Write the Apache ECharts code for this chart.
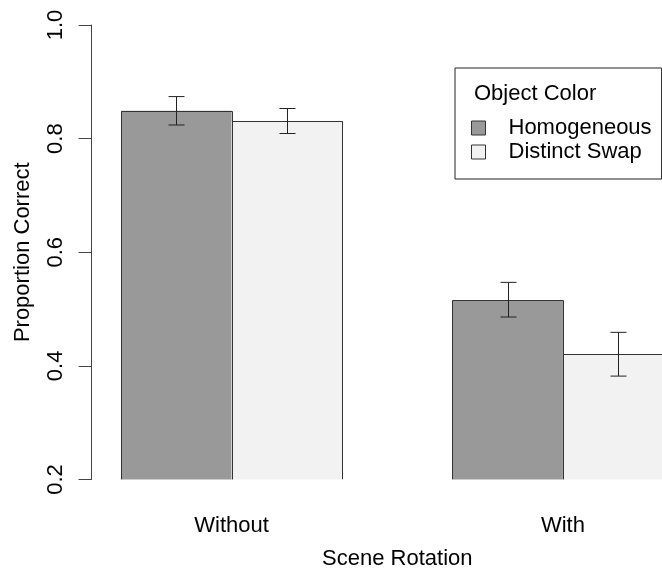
<!DOCTYPE html>
<html>
<head>
<meta charset="utf-8">
<script src="https://cdn.jsdelivr.net/npm/echarts@6/dist/echarts.min.js"></script>
<style>
html,body{margin:0;padding:0;background:#fff;}
#chart{width:662px;height:574px;}
</style>
</head>
<body>
<div id="chart"></div>
<script>
// ---- data ----
const categories = ['Without', 'With'];
const seriesNames = ['Homogeneous', 'Distinct Swap'];
const homogeneous = [0.849, 0.516];
const distinctSwap = [0.831, 0.421];
const homogeneousLower = [0.824, 0.486];
const homogeneousUpper = [0.874, 0.547];
const distinctLower = [0.809, 0.382];
const distinctUpper = [0.853, 0.459];
const yMin = 0.2, yMax = 1.0, yStep = 0.2;
const legendTitle = 'Object Color';
const xTitle = 'Scene Rotation';
const yTitle = 'Proportion Correct';

const FONT = 'Liberation Sans';
const FS = 22;
const GAP = 0.332;
const colors = ['#999999', '#f2f2f2'];

function errData(mean, lo, hi) {
  return categories.map((c, i) => [i, mean[i], lo[i], hi[i]]);
}
function errRender(seriesIdx) {
  return function (params, api) {
    const i = api.value(0);
    const bandW = api.size([1, 0])[0];
    const barW = bandW * (1 - GAP) / 2;
    const off = (seriesIdx === 0 ? -1 : 1) * barW / 2;
    const pTop = api.coord([i, api.value(1)]);
    const pLo = api.coord([i, api.value(2)]);
    const pHi = api.coord([i, api.value(3)]);
    const pBase = api.coord([i, yMin]);
    const cx = pLo[0] + off;
    const x = Math.round(cx) + 0.5;
    const xl = Math.round(cx - barW / 2) + 0.5;
    const xr = Math.round(cx + barW / 2) + 0.5;
    const yt = Math.round(pTop[1]) + 0.5;
    const cap = 8;
    const st = { stroke: '#222', lineWidth: 1, fill: null };
    const ost = { stroke: '#333', lineWidth: 1, fill: null };
    return {
      type: 'group',
      children: [
        { type: 'polyline', shape: { points: [[xl, pBase[1]], [xl, yt], [xr, yt], [xr, pBase[1]]] }, style: ost },
        { type: 'line', shape: { x1: x, y1: pLo[1], x2: x, y2: pHi[1] }, style: st },
        { type: 'line', shape: { x1: x - cap, y1: pLo[1], x2: x + cap, y2: pLo[1] }, style: st },
        { type: 'line', shape: { x1: x - cap, y1: pHi[1], x2: x + cap, y2: pHi[1] }, style: st }
      ]
    };
  };
}

const chart = echarts.init(document.getElementById('chart'), null, { renderer: 'canvas' });
chart.setOption({
  animation: false,
  backgroundColor: '#ffffff',
  textStyle: { fontFamily: FONT },
  grid: { left: 66, top: 25, width: 662.6, height: 454.5, containLabel: false, outerBoundsMode: 'none' },
  title: {
    text: legendTitle,
    left: 474, top: 83,
    padding: 0,
    textStyle: { fontFamily: FONT, fontSize: FS, fontWeight: 'normal', color: '#000' }
  },
  legend: {
    orient: 'vertical',
    left: 455, top: 68,
    padding: [49, 10, 16, 16],
    itemGap: 2,
    itemWidth: 14, itemHeight: 14,
    icon: 'rect',
    borderColor: '#222', borderWidth: 1,
    data: seriesNames,
    textStyle: { fontFamily: FONT, fontSize: FS, color: '#000', padding: [0, 0, 0, 18] },
    itemStyle: { borderColor: '#333', borderWidth: 1 }
  },
  xAxis: {
    type: 'category',
    data: categories,
    axisLine: { show: false },
    axisTick: { show: false },
    axisLabel: { margin: 35, fontFamily: FONT, fontSize: FS, color: '#000' },
    name: xTitle,
    nameLocation: 'middle',
    nameGap: 68,
    nameTextStyle: { fontFamily: FONT, fontSize: FS, color: '#000' }
  },
  yAxis: {
    type: 'value',
    min: yMin, max: yMax, interval: yStep,
    offset: -25.5,
    axisLine: { show: true, lineStyle: { color: '#444', width: 1 } },
    axisTick: { show: true, length: 13, lineStyle: { color: '#444' } },
    splitLine: { show: false },
    axisLabel: {
      rotate: 90, margin: 25,
      fontFamily: FONT, fontSize: FS, color: '#000',
      formatter: v => v.toFixed(1)
    },
    name: yTitle,
    nameLocation: 'middle',
    nameGap: 58,
    nameTextStyle: { fontFamily: FONT, fontSize: FS, color: '#000' }
  },
  series: [
    {
      name: seriesNames[0], type: 'bar', data: homogeneous,
      barGap: '0%', barCategoryGap: (GAP * 100) + '%', clip: true,
      itemStyle: { color: colors[0], borderColor: '#333', borderWidth: 0 }
    },
    {
      name: seriesNames[1], type: 'bar', data: distinctSwap,
      barGap: '0%', barCategoryGap: (GAP * 100) + '%', clip: true,
      itemStyle: { color: colors[1], borderColor: '#333', borderWidth: 0 }
    },
    {
      type: 'custom', data: errData(homogeneous, homogeneousLower, homogeneousUpper),
      renderItem: errRender(0), z: 5, silent: true, clip: true
    },
    {
      type: 'custom', data: errData(distinctSwap, distinctLower, distinctUpper),
      renderItem: errRender(1), z: 5, silent: true, clip: true
    }
  ]
});
</script>
</body>
</html>
